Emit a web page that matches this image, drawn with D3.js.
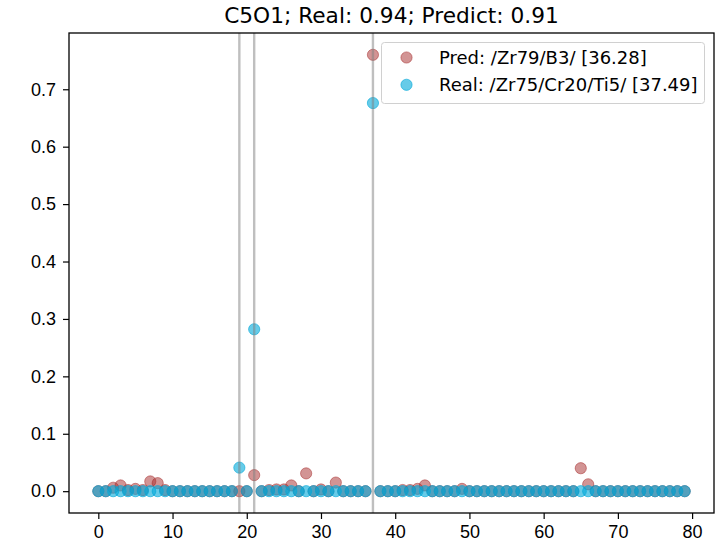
<!DOCTYPE html>
<html>
<head>
<meta charset="utf-8">
<script src="https://cdn.jsdelivr.net/npm/d3@7"></script>
<style>
  body { margin: 0; background: #fff; }
  svg { font-family: "DejaVu Sans", sans-serif; }
</style>
</head>
<body>
<div id="chart"></div>
<script>
// values
const positions = [
   0,  1,  2,  3,  4,  5,  6,  7,  8,  9,
  10, 11, 12, 13, 14, 15, 16, 17, 18, 19,
  20, 21, 22, 23, 24, 25, 26, 27, 28, 29,
  30, 31, 32, 33, 34, 35, 36, 37, 38, 39,
  40, 41, 42, 43, 44, 45, 46, 47, 48, 49,
  50, 51, 52, 53, 54, 55, 56, 57, 58, 59,
  60, 61, 62, 63, 64, 65, 66, 67, 68, 69,
  70, 71, 72, 73, 74, 75, 76, 77, 78, 79
];
const predValues = [
  0, 0, 0.006, 0.010, 0.002, 0.004, 0.002, 0.017, 0.014, 0.002,
  0, 0, 0, 0, 0, 0, 0, 0, 0, 0,
  0, 0.028, 0, 0.002, 0.003, 0.003, 0.010, 0, 0.031, 0,
  0.003, 0, 0.015, 0, 0, 0, 0, 0.760, 0, 0,
  0, 0.002, 0.002, 0.004, 0.010, 0, 0, 0, 0, 0.004,
  0, 0, 0, 0, 0, 0, 0, 0, 0, 0,
  0, 0, 0, 0, 0, 0.040, 0.012, 0, 0, 0,
  0, 0, 0, 0, 0, 0, 0, 0, 0, 0
];
const realValues = [
  0, 0, 0, 0, 0, 0, 0, 0, 0, 0,
  0, 0, 0, 0, 0, 0, 0, 0, 0, 0.041,
  0, 0.282, 0, 0, 0, 0, 0, 0, 0, 0,
  0, 0, 0, 0, 0, 0, 0, 0.676, 0, 0,
  0, 0, 0, 0, 0, 0, 0, 0, 0, 0,
  0, 0, 0, 0, 0, 0, 0, 0, 0, 0,
  0, 0, 0, 0, 0, 0, 0, 0, 0, 0,
  0, 0, 0, 0, 0, 0, 0, 0, 0, 0
];
const markerLines = [19, 21, 37];
const xTicks = [0, 10, 20, 30, 40, 50, 60, 70, 80];
const yTicks = [0.0, 0.1, 0.2, 0.3, 0.4, 0.5, 0.6, 0.7];
const titleText = "C5O1; Real: 0.94; Predict: 0.91";
const legendLabels = ["Pred: /Zr79/B3/ [36.28]", "Real: /Zr75/Cr20/Ti5/ [37.49]"];

const W = 725, H = 543;
const margin = { top: 33, right: 11, bottom: 30, left: 69 };

const predColor = "#a52a2a";
const predAlpha = 0.5;
const realColor = "#00a8d8";
const realAlpha = 0.6;
const tickFont = "18px";

const svg = d3.select("#chart").append("svg")
  .attr("width", W)
  .attr("height", H);

// matplotlib-like 5% margins around the data
const xExt = d3.extent(positions);
const xPad = (xExt[1] - xExt[0]) * 0.05;
const allY = predValues.concat(realValues);
const yExt = d3.extent(allY);
const yPad = (yExt[1] - yExt[0]) * 0.05;

const x = d3.scaleLinear()
  .domain([xExt[0] - xPad, xExt[1] + xPad])
  .range([margin.left, W - margin.right]);
const y = d3.scaleLinear()
  .domain([yExt[0] - yPad, yExt[1] + yPad])
  .range([H - margin.bottom, margin.top]);

// axes
const xAxis = svg.append("g")
  .attr("transform", `translate(0,${H - margin.bottom})`)
  .call(d3.axisBottom(x).tickValues(xTicks).tickFormat(d3.format("d")).tickSize(6).tickPadding(6));
const yAxis = svg.append("g")
  .attr("transform", `translate(${margin.left},0)`)
  .call(d3.axisLeft(y).tickValues(yTicks).tickFormat(d3.format(".1f")).tickSize(6).tickPadding(7));

[xAxis, yAxis].forEach(g => {
  g.select(".domain").remove();
  g.selectAll(".tick line").attr("stroke", "#000").attr("stroke-width", 1.2);
  g.selectAll(".tick text").attr("fill", "#000").style("font-size", tickFont);
});
xAxis.selectAll(".tick text").attr("dy", "0.74em");

// points
const predData = positions.map((p, i) => ({ x: p, v: predValues[i] }));
const realData = positions.map((p, i) => ({ x: p, v: realValues[i] }));

svg.append("g").selectAll("circle")
  .data(predData)
  .enter()
  .append("circle")
  .attr("cx", d => x(d.x))
  .attr("cy", d => y(d.v))
  .attr("r", 5.6)
  .attr("fill", predColor)
  .attr("fill-opacity", predAlpha)
  .attr("stroke", predColor)
  .attr("stroke-opacity", predAlpha)
  .attr("stroke-width", 1);

svg.append("g").selectAll("circle")
  .data(realData)
  .enter()
  .append("circle")
  .attr("cx", d => x(d.x))
  .attr("cy", d => y(d.v))
  .attr("r", 5.6)
  .attr("fill", realColor)
  .attr("fill-opacity", realAlpha)
  .attr("stroke", realColor)
  .attr("stroke-opacity", realAlpha)
  .attr("stroke-width", 1);

// vertical reference lines
svg.append("g").selectAll("line")
  .data(markerLines)
  .enter()
  .append("line")
  .attr("x1", d => x(d))
  .attr("x2", d => x(d))
  .attr("y1", margin.top)
  .attr("y2", H - margin.bottom)
  .attr("stroke", "#808080")
  .attr("stroke-opacity", 0.5)
  .attr("stroke-width", 2.4);

// frame
svg.append("rect")
  .attr("x", margin.left)
  .attr("y", margin.top)
  .attr("width", W - margin.left - margin.right)
  .attr("height", H - margin.top - margin.bottom)
  .attr("fill", "none")
  .attr("stroke", "#000")
  .attr("stroke-width", 1.3);

// title
svg.append("text")
  .attr("x", (margin.left + W - margin.right) / 2)
  .attr("y", 23)
  .attr("text-anchor", "middle")
  .style("font-size", "21.7px")
  .attr("fill", "#000")
  .text(titleText);

// legend
const legend = svg.append("g");
legend.append("rect")
  .attr("x", 381.5)
  .attr("y", 42.5)
  .attr("width", 323)
  .attr("height", 61)
  .attr("rx", 3)
  .attr("fill", "#fff")
  .attr("fill-opacity", 0.8)
  .attr("stroke", "#d0d0d0")
  .attr("stroke-width", 1);

const legendItems = [
  { label: legendLabels[0], color: predColor, op: predAlpha },
  { label: legendLabels[1], color: realColor, op: realAlpha }
];
legendItems.forEach((it, i) => {
  const cy = 57.5 + i * 27.3;
  legend.append("circle")
    .attr("cx", 406.5)
    .attr("cy", cy)
    .attr("r", 5.6)
    .attr("fill", it.color)
    .attr("fill-opacity", it.op)
    .attr("stroke", it.color)
    .attr("stroke-opacity", it.op);
  legend.append("text")
    .attr("x", 439)
    .attr("y", cy)
    .attr("dy", "0.35em")
    .style("font-size", tickFont)
    .attr("fill", "#000")
    .text(it.label);
});
</script>
</body>
</html>
